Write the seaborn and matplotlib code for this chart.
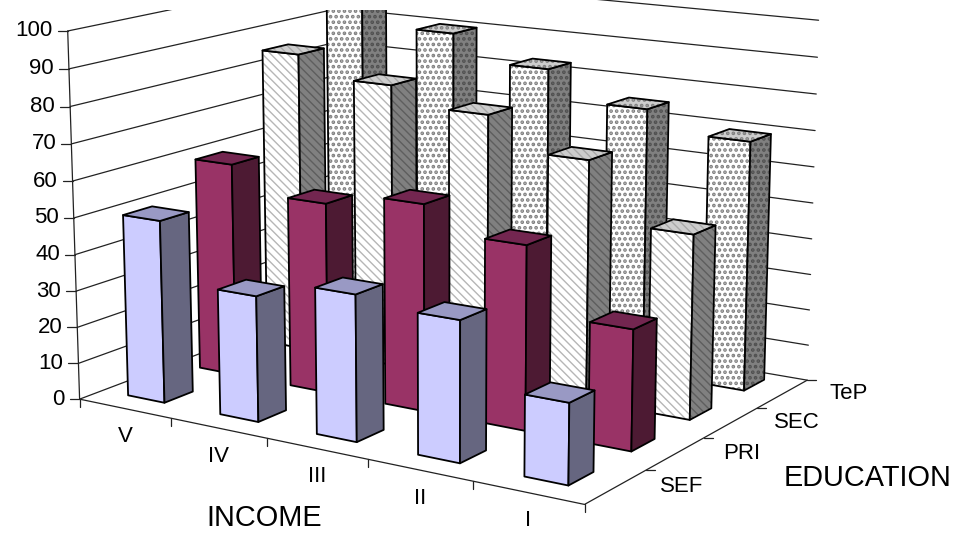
import numpy as np
import matplotlib
matplotlib.use("Agg")
import matplotlib.pyplot as plt
import seaborn as sns
from matplotlib.lines import Line2D
from matplotlib.patches import Rectangle
from matplotlib.transforms import IdentityTransform
from mpl_toolkits.mplot3d import proj3d
from mpl_toolkits.mplot3d.art3d import Poly3DCollection

income = ["V", "IV", "III", "II", "I"]
education = ["SEF", "PRI", "SEC", "TeP"]
sef = [50, 34, 39, 37, 21]
pri = [59.5, 52.5, 56.3, 49.5, 32]
sec = [85.3, 79.7, 74.8, 66, 50]
tep = [95, 89.7, 82.5, 74.5, 69]
z_ticks = list(range(0, 101, 10))

sns.set_theme(style="white")
plt.rcParams["font.family"] = ["Liberation Sans", "DejaVu Sans"]

W_PX, H_PX = 957, 536
fig = plt.figure(figsize=(W_PX / 100, H_PX / 100), dpi=100)
ax = fig.add_subplot(projection="3d", computed_zorder=False)
ax.set_xlim(0, 5, view_margin=0)
ax.set_ylim(0, 4, view_margin=0)
ax.set_zlim(0, 100, view_margin=0)
ax.set_axis_off()

# camera
ax.view_init(elev=13.11, azim=-57.13)
ax.set_proj_type("persp", focal_length=0.619)
ax.set_box_aspect((1.565, 1.222, 1))
SCALE, TX, TY = 4359.1, 447.7, 325.6
x0, x1 = ax.viewLim.intervalx
y0, y1 = ax.viewLim.intervaly
side = SCALE * (x1 - x0)
ax.set_position([(TX + SCALE * x0) / W_PX, (TY + SCALE * y0) / H_PX, side / W_PX, side / H_PX])

BAR_X0, BAR_W, BAR_Y0, BAR_D, ROW_STEP = 0.265, 0.4, 0.33, 0.4, 1.028

STRIPE, DOTS = "\\\\\\\\", "..."
HATCH_LW = {STRIPE: 1.0, DOTS: 1.8}
styles = {
    "SEF": dict(front=("#CCCCFF", None, None), top=("#9999C4", None, None), side=("#666680", None, None)),
    "PRI": dict(front=("#993366", None, None), top=("#732650", None, None), side=("#4D1A33", None, None)),
    "SEC": dict(front=("#FFFFFF", STRIPE, "#B6B6B6"), top=("#CDCDCD", STRIPE, "#A8A8A8"),
                side=("#808080", STRIPE, "#5E5E5E")),
    "TeP": dict(front=("#FFFFFF", DOTS, "#808080"), top=("#CDCDCD", DOTS, "#808080"),
                side=("#808080", DOTS, "#505050")),
}

order = 10


def face(verts, style):
    global order
    color, hatch, hatch_color = style
    # hatch takes the edge colour, so the black outline goes on as its own layer
    if hatch:
        with plt.rc_context({"hatch.color": hatch_color, "hatch.linewidth": HATCH_LW[hatch]}):
            fill = Poly3DCollection([verts], facecolors=color, edgecolors=hatch_color, linewidths=0,
                                    hatch=hatch, zorder=order)
        ax.add_collection3d(fill)
        color = (1, 1, 1, 0)
    outline = Poly3DCollection([verts], facecolors=[color], edgecolors="black", linewidths=1.3, zorder=order + 1)
    ax.add_collection3d(outline)
    order += 2


def draw_bar(i, j, h, st):
    a, b = i + BAR_X0, i + BAR_X0 + BAR_W
    c, d = j * ROW_STEP + BAR_Y0, j * ROW_STEP + BAR_Y0 + BAR_D
    face([(a, c, 0), (b, c, 0), (b, c, h), (a, c, h)], st["front"])
    face([(b, c, 0), (b, d, 0), (b, d, h), (b, c, h)], st["side"])
    face([(a, c, h), (b, c, h), (b, d, h), (a, d, h)], st["top"])


# walls and floor lines
for z in z_ticks:
    ax.plot([0, 0, 5], [0, 4, 4], [z, z, z], color="#222222", lw=0.9, zorder=1)
ax.plot([0, 0], [0, 0], [0, 100], color="#222222", lw=0.9, zorder=1)
ax.plot([0, 5, 5], [0, 0, 4], [0, 0, 0], color="#222222", lw=0.9, zorder=1)

# back row first so the front bars sit on top
for j, values in reversed(list(enumerate([sef, pri, sec, tep]))):
    for i, v in enumerate(values):
        draw_bar(i, j, v, styles[education[j]])


def to_px(x, y, z):
    vx, vy, _ = proj3d.proj_transform(x, y, z, ax.get_proj())
    return ax.transData.transform((vx, vy))


def seg(xs, ys):
    fig.add_artist(Line2D(xs, ys, color="#222222", lw=0.9, transform=IdentityTransform()))


def label(x, y, txt, size):
    fig.text(x, y, txt, fontsize=size, ha="center", va="center", color="black", transform=IdentityTransform())


for z in z_ticks:
    px, py = to_px(0, 0, z)
    seg([px - 10, px], [py, py])
    fig.text(px - 15, py, str(z), fontsize=16, ha="right", va="center", color="black", transform=IdentityTransform())
px, py = to_px(0, 0, 0)
seg([px, px], [py, py - 8])
for i, name in enumerate(income):
    px, py = to_px(i + 1, 0, 0)
    seg([px, px], [py, py - 8])
    px, py = to_px(i + 0.5, 0, 0)
    label(px, py - 28, name, 16)
for j, name in enumerate(education):
    px, py = to_px(5, j + 1, 0)
    seg([px, px + 9], [py, py])
    px, py = to_px(5, j + 0.5, 0)
    label(px + 66, py, name, 16)

label(264, H_PX - 518, "INCOME", 20.8)
label(868, H_PX - 478, "EDUCATION", 20.8)

# the reference is cropped along the top on the left side
fig.add_artist(Rectangle((0, H_PX - 10), 480, 10, facecolor="white", edgecolor="none",
                         transform=IdentityTransform(), zorder=5))

fig.savefig("out.png", dpi=100)
